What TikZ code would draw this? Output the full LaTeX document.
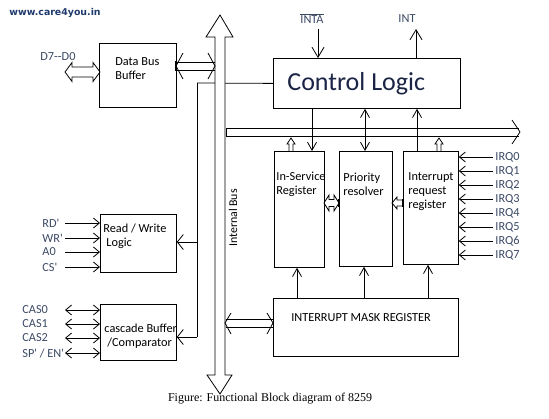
\documentclass[tikz,border=0pt]{standalone}
\usepackage{fontspec}
\setmainfont{Carlito}
\newfontfamily\capfont{Liberation Serif}
\newfontfamily\webfont{DejaVu Sans}
\usetikzlibrary{arrows.meta}
\definecolor{lbl}{HTML}{3C4A66}
\definecolor{navy}{HTML}{1B2444}
\definecolor{web}{HTML}{1F3A6E}
\newcommand{\sq}{\textquotesingle}
\begin{document}
\begin{tikzpicture}[x=1pt,y=-1pt,line width=0.8pt,
  box/.style={draw,inner sep=0pt,anchor=north west},
  txt/.style={inner sep=0pt,anchor=west,align=left,font=\fontsize{12.3}{14}\selectfont},
  lab/.style={txt,text=lbl},
  hd/.style={-{Straight Barb[length=8pt,width=9pt]}},
  hdd/.style={{Straight Barb[length=8pt,width=9pt]}-{Straight Barb[length=8pt,width=9pt]}},
  hbig/.style={-{Straight Barb[length=10pt,width=12pt]}},
  hs/.style={-{Straight Barb[length=6pt,width=10pt]}},
  hss/.style={{Straight Barb[length=6pt,width=10pt]}-{Straight Barb[length=6pt,width=10pt]}},
  hrw/.style={-{Straight Barb[length=6pt,width=15pt]}}]
\useasboundingbox (0,0) rectangle (549,418);
\fill[white] (0,0) rectangle (549,418);

% header and caption
\node[inner sep=0pt,anchor=west,font=\webfont\bfseries\fontsize{9.4}{11}\selectfont,text=web] (web) at (9,13) {www.care4you.in};
\node[inner sep=0pt,font=\capfont\fontsize{12}{14}\selectfont] (cap) at (270,399) {Figure: Functional Block diagram of 8259};

% boxes
\node[box,minimum width=77pt,minimum height=64pt] (dbb) at (99,43) {};
\node[box,minimum width=187pt,minimum height=50pt] (cl) at (273,58) {};
\node[box,minimum width=50pt,minimum height=116pt] (isr) at (274,151) {};
\node[box,minimum width=53pt,minimum height=115pt] (pr) at (339,151) {};
\node[box,minimum width=55pt,minimum height=113pt] (irr) at (403,151) {};
\node[box,minimum width=185pt,minimum height=58pt] (imr) at (273,298) {};
\node[box,minimum width=76pt,minimum height=58pt] (rw) at (100,214) {};
\node[box,minimum width=76pt,minimum height=56pt] (cas) at (100,304) {};

% box texts
\node[txt] (dbbt) at (115,69) {Data Bus\\Buffer};
\node[inner sep=0pt,anchor=west,font=\fontsize{26}{30}\selectfont,text=navy] (clt) at (287,84) {Control Logic};
\node[txt] (isrt) at (276,184) {In-Service\\Register};
\node[txt] (prt) at (343,184) {Priority\\resolver};
\node[txt] (irrt) at (408,192) {Interrupt\\request\\register};
\node[inner sep=0pt,font=\fontsize{12.3}{14}\selectfont] (imrt) at (361,318) {INTERRUPT MASK REGISTER};
\node[txt] (rwt) at (103,236) {Read / Write\\\hspace*{3pt}Logic};
\node[txt] (cast) at (104,336) {cascade Buffer\\\hspace*{3pt}/Comparator};

% control line from control logic to R/W and cascade (under the bus)
\draw (197,83) -- (cl.west);
\draw (197,83) -- (197,337);
\draw[hrw] (197,242) -- (rw.east |- 0,242);
\draw[hrw] (197,337) -- (cas.east |- 0,337);

% vertical internal bus
\draw[fill=white] (215,375) -- (215,37) -- (206,37) -- (220,15) -- (233,37) -- (225,37)
   -- (225,375) -- (232,375) -- (220,394) -- (207,375) -- cycle;
\node[inner sep=0pt,rotate=90,font=\fontsize{11.9}{14}\selectfont] (busl) at (233,218) {Internal Bus};

% horizontal bus
\draw (226,128) -- (519,128);
\draw (226,136) -- (519,136);
\draw (226,128) -- (226,136);
\draw (512,120) -- (520,132) -- (512,144);

% data bus buffer <-> bus
\draw (dbb.east |- 0,62) -- (215,62);
\draw (dbb.east |- 0,70) -- (215,70);
\draw[line width=2pt] (176,61) -- (176,71);
\draw (183,53) -- (176,66) -- (183,79);
\draw (208,53) -- (215,66) -- (208,79);

% bus <-> IMR
\draw (226,319) -- (imr.west |- 0,319);
\draw (226,327) -- (imr.west |- 0,327);
\draw (231,313) -- (225,323) -- (231,334);
\draw (267,313) -- (273,323) -- (267,334);

% D7--D0
\node[lab] (dl) at (40,57) {D7-{}-D0};
\draw (65,72) -- (72,62.5) -- (72,67) -- (93,67) -- (93,62.5) -- (100,72) -- (93,81.5)
   -- (93,77) -- (72,77) -- (72,81.5) -- cycle;

% INTA / INT
\node[inner sep=0pt,font=\fontsize{12.3}{14}\selectfont,text=lbl] (inta) at (312,19) {$\overline{\hbox{INTA}}$};
\node[inner sep=0pt,font=\fontsize{12.3}{14}\selectfont,text=lbl] (int) at (407,19) {INT};
\draw[hbig] (318,29) -- (cl.north -| 318,0);
\draw[hbig] (cl.north -| 416,0) -- (416,29);

% control logic <-> registers
\draw[hd] (cl.south -| 312,0) -- (isr.north -| 312,0);
\draw[hdd] (cl.south -| 365,0) -- (pr.north -| 365,0);
\draw[hd] (irr.north -| 417,0) -- (cl.south -| 417,0);

% small hollow arrows from bus
\draw (289,151) -- (289,144) -- (287,144) -- (291,138) -- (295,144) -- (293,144) -- (293,151);
\draw (437,151) -- (437,144) -- (435,144) -- (439,138) -- (443,144) -- (441,144) -- (441,151);

% between registers
\draw (324,203) -- (329,195) -- (329,199.5) -- (334,199.5) -- (334,195) -- (339,203) -- (334,211)
   -- (334,206.5) -- (329,206.5) -- (329,211) -- cycle;
\draw[line width=2pt] (339,199) -- (339,207);
\draw (392,203) -- (397,197) -- (397,200) -- (403,200) -- (403,206) -- (397,206) -- (397,209) -- cycle;
\draw[line width=2pt] (403,199) -- (403,207);

% IMR -> registers
\draw[hd] (imr.north -| 297,0) -- (isr.south -| 297,0);
\draw[hd] (imr.north -| 364,0) -- (pr.south -| 364,0);
\draw[hd] (imr.north -| 428,0) -- (irr.south -| 428,0);

% IRQ inputs
\foreach \i in {0,...,7}{
  \node[lab] (irq\i) at (495,157+14*\i) {IRQ\i};
  \draw[hs] (493,157+14*\i) -- (irr.east |- irq\i);
}

% R/W inputs
\node[lab] (rd) at (42,223) {RD\sq};
\node[lab] (wr) at (42,238) {WR\sq};
\node[lab] (a0) at (42,252) {A0};
\node[lab] (cs) at (42,267) {CS\sq};
\foreach \n in {rd,wr,a0,cs}{
  \draw[hs] (65,0 |- \n) -- (rw.west |- \n);
}

% cascade lines
\node[lab] (c0) at (22,310) {CAS0};
\node[lab] (c1) at (22,324) {CAS1};
\node[lab] (c2) at (22,338) {CAS2};
\node[lab] (sp) at (22,353) {SP\sq{} / EN\sq};
\foreach \n in {c0,c1,c2,sp}{
  \draw[hss] (65,0 |- \n) -- (cas.west |- \n);
}
\end{tikzpicture}
\end{document}
